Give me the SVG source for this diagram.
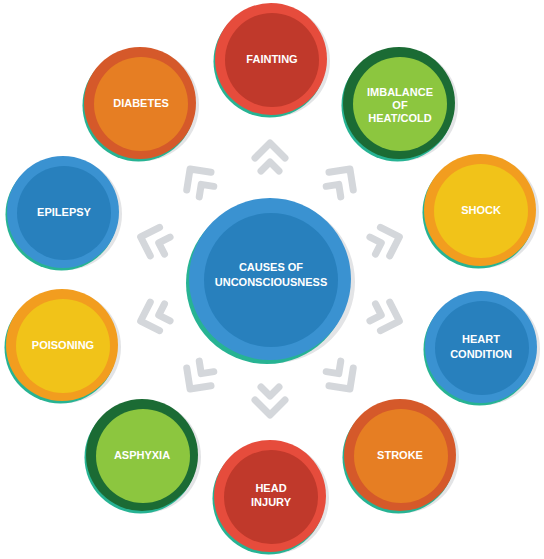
<svg xmlns="http://www.w3.org/2000/svg" xmlns:xlink="http://www.w3.org/1999/xlink" width="544" height="559" viewBox="0 0 544 559">
<style>
.sh{fill:#e3e4e6}
.tl{fill:#27b393}
.t{fill:#ffffff;font-family:"Liberation Sans",Arial,sans-serif;font-weight:bold;font-size:11px;text-anchor:middle}
.ch{fill:none;stroke:#d4d7db;stroke-width:7;stroke-linecap:round;stroke-linejoin:round}
</style>
<defs>
<g id="chev">
<path class="ch" d="M-15,-121 L0,-136 L15,-121"/>
<path class="ch" d="M-9,-108 L0,-117 L9,-108"/>
</g>
<g id="base">
<circle class="sh" cx="3" cy="2" r="56"/>
<circle class="tl" cx="-1.5" cy="2.5" r="56"/>
</g>
</defs>
<rect width="544" height="559" fill="#ffffff"/>
<g id="connectors">
<use xlink:href="#chev" href="#chev" transform="translate(270,279) rotate(0)"/>
<use xlink:href="#chev" href="#chev" transform="translate(270,279) rotate(36)"/>
<use xlink:href="#chev" href="#chev" transform="translate(270,279) rotate(72)"/>
<use xlink:href="#chev" href="#chev" transform="translate(270,279) rotate(108)"/>
<use xlink:href="#chev" href="#chev" transform="translate(270,279) rotate(144)"/>
<use xlink:href="#chev" href="#chev" transform="translate(270,279) rotate(180)"/>
<use xlink:href="#chev" href="#chev" transform="translate(270,279) rotate(216)"/>
<use xlink:href="#chev" href="#chev" transform="translate(270,279) rotate(252)"/>
<use xlink:href="#chev" href="#chev" transform="translate(270,279) rotate(288)"/>
<use xlink:href="#chev" href="#chev" transform="translate(270,279) rotate(324)"/>
</g>
<g id="center">
<circle class="sh" cx="274" cy="282" r="81"/>
<circle class="tl" cx="267" cy="283" r="81"/>
<circle cx="270" cy="279" r="81" fill="#3a92d1"/>
<circle cx="271" cy="280" r="67" fill="#2880bd"/>
<text class="t" x="271" y="271">CAUSES OF</text>
<text class="t" x="271" y="286">UNCONSCIOUSNESS</text>
</g>
<g id="fainting" transform="translate(271,59)">
<use xlink:href="#base" href="#base"/>
<circle r="56" fill="#e64c3c"/>
<circle cx="1" cy="1" r="47" fill="#c0392b"/>
<text class="t" x="1" y="4">FAINTING</text>
</g>
<g id="imbalance" transform="translate(399,103)">
<use xlink:href="#base" href="#base"/>
<circle r="56" fill="#1b6b34"/>
<circle cx="1" cy="1" r="47" fill="#8cc63f"/>
<text class="t" x="1" y="-7">IMBALANCE</text>
<text class="t" x="1" y="6">OF</text>
<text class="t" x="1" y="19">HEAT/COLD</text>
</g>
<g id="shock" transform="translate(480,210)">
<use xlink:href="#base" href="#base"/>
<circle r="56" fill="#f29d1f"/>
<circle cx="1" cy="1" r="47" fill="#f1c319"/>
<text class="t" x="1" y="4">SHOCK</text>
</g>
<g id="heart" transform="translate(481,347)">
<use xlink:href="#base" href="#base"/>
<circle r="56" fill="#3a92d1"/>
<circle cx="1" cy="1" r="47" fill="#2880bd"/>
<text class="t" x="0" y="-4">HEART</text>
<text class="t" x="0" y="11">CONDITION</text>
</g>
<g id="stroke" transform="translate(400,455)">
<use xlink:href="#base" href="#base"/>
<circle r="56" fill="#d5592a"/>
<circle cx="1" cy="1" r="47" fill="#e67e23"/>
<text class="t" x="0" y="4">STROKE</text>
</g>
<g id="headinjury" transform="translate(270,496)">
<use xlink:href="#base" href="#base"/>
<circle r="56" fill="#e64c3c"/>
<circle cx="1" cy="1" r="47" fill="#c0392b"/>
<text class="t" x="1" y="-4">HEAD</text>
<text class="t" x="1" y="10">INJURY</text>
</g>
<g id="asphyxia" transform="translate(142,455)">
<use xlink:href="#base" href="#base"/>
<circle r="56" fill="#1b6b34"/>
<circle cx="1" cy="1" r="47" fill="#8cc63f"/>
<text class="t" x="0" y="4">ASPHYXIA</text>
</g>
<g id="poisoning" transform="translate(62,345)">
<use xlink:href="#base" href="#base"/>
<circle r="56" fill="#f29d1f"/>
<circle cx="1" cy="1" r="47" fill="#f1c319"/>
<text class="t" x="1" y="4">POISONING</text>
</g>
<g id="epilepsy" transform="translate(63,212)">
<use xlink:href="#base" href="#base"/>
<circle r="56" fill="#3a92d1"/>
<circle cx="1" cy="1" r="47" fill="#2880bd"/>
<text class="t" x="1" y="4">EPILEPSY</text>
</g>
<g id="diabetes" transform="translate(140,103)">
<use xlink:href="#base" href="#base"/>
<circle r="56" fill="#d5592a"/>
<circle cx="1" cy="1" r="47" fill="#e67e23"/>
<text class="t" x="1" y="4">DIABETES</text>
</g>
</svg>
